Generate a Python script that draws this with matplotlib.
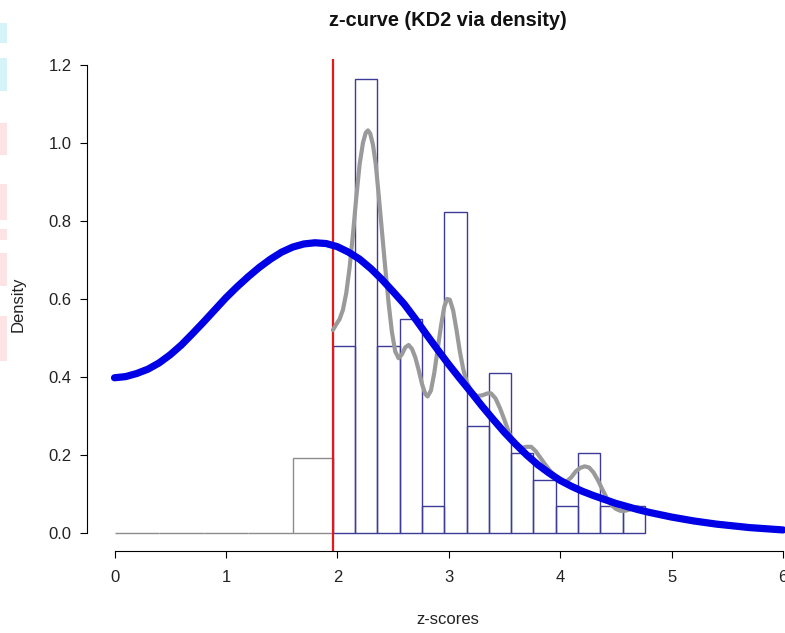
import numpy as np
import matplotlib
matplotlib.use('Agg')
import matplotlib.pyplot as plt
from matplotlib.patches import Rectangle

plt.rcParams['font.family'] = ['Liberation Sans', 'DejaVu Sans']

# critical value for significance
crit_z = 1.96

# histogram of non-significant z-scores (only the last bin is non-empty)
nonsig_edges = [0.0, 0.4, 0.8, 1.2, 1.6, 1.96]
nonsig_density = [0.0, 0.0, 0.0, 0.0, 0.193]

# histogram of significant z-scores, bin width 0.2
sig_edges = [1.96, 2.16, 2.36, 2.56, 2.76, 2.96, 3.16, 3.36, 3.56, 3.76,
             3.96, 4.16, 4.36, 4.56, 4.76]
sig_density = [0.480, 1.165, 0.480, 0.549, 0.069, 0.823, 0.274, 0.411,
               0.206, 0.137, 0.069, 0.206, 0.069, 0.069]

# fitted z-curve (blue), read every 0.1
z_model = [0.0, 0.1, 0.2, 0.3, 0.4, 0.5, 0.6, 0.7, 0.8, 0.9, 1.0, 1.1, 1.2,
           1.3, 1.4, 1.5, 1.6, 1.7, 1.8, 1.9, 2.0, 2.1, 2.2, 2.3, 2.4, 2.5,
           2.6, 2.7, 2.8, 2.9, 3.0, 3.1, 3.2, 3.3, 3.4, 3.5, 3.6, 3.7, 3.8,
           3.9, 4.0, 4.1, 4.2, 4.3, 4.4, 4.5, 4.6, 4.7, 4.8, 4.9, 5.0, 5.1,
           5.2, 5.3, 5.4, 5.5, 5.6, 5.7, 5.8, 5.9, 6.0]
d_model = [0.398, 0.401, 0.409, 0.420, 0.436, 0.457, 0.482, 0.511, 0.541,
           0.572, 0.603, 0.631, 0.657, 0.681, 0.702, 0.720, 0.733, 0.741,
           0.744, 0.742, 0.734, 0.720, 0.702, 0.678, 0.650, 0.619, 0.587,
           0.549, 0.509, 0.470, 0.432, 0.396, 0.361, 0.325, 0.291, 0.258,
           0.228, 0.200, 0.175, 0.154, 0.135, 0.120, 0.107, 0.096, 0.086,
           0.076, 0.068, 0.060, 0.053, 0.047, 0.041, 0.036, 0.031, 0.027,
           0.023, 0.020, 0.017, 0.014, 0.012, 0.010, 0.008]

# kernel density of significant z-scores (gray)
z_kd = [1.96, 1.99, 2.02, 2.05, 2.08, 2.11, 2.14, 2.17, 2.20, 2.23, 2.255,
        2.275, 2.295, 2.32, 2.345, 2.37, 2.40, 2.43, 2.46, 2.49, 2.52, 2.55,
        2.58, 2.61, 2.64, 2.67, 2.70, 2.73, 2.76, 2.79, 2.81, 2.84, 2.87,
        2.90, 2.93, 2.96, 2.985, 3.01, 3.04, 3.07, 3.10, 3.13, 3.16, 3.20,
        3.25, 3.30, 3.35, 3.38, 3.42, 3.46, 3.50, 3.54, 3.58, 3.62, 3.66,
        3.70, 3.74, 3.78, 3.82, 3.86, 3.90, 3.94, 3.98, 4.02, 4.06, 4.10,
        4.14, 4.18, 4.22, 4.26, 4.30, 4.34, 4.38, 4.42, 4.46, 4.50, 4.54,
        4.58, 4.62, 4.66, 4.70]
d_kd = [0.520, 0.535, 0.548, 0.572, 0.615, 0.680, 0.765, 0.860, 0.945,
        1.000, 1.026, 1.032, 1.024, 0.995, 0.945, 0.870, 0.775, 0.680,
        0.590, 0.515, 0.465, 0.448, 0.458, 0.476, 0.482, 0.472, 0.450,
        0.418, 0.382, 0.356, 0.350, 0.365, 0.410, 0.470, 0.530, 0.580,
        0.600, 0.598, 0.570, 0.520, 0.465, 0.420, 0.388, 0.364, 0.351,
        0.353, 0.358, 0.358, 0.345, 0.320, 0.290, 0.258, 0.233, 0.221,
        0.219, 0.221, 0.221, 0.210, 0.194, 0.178, 0.163, 0.150, 0.139,
        0.132, 0.133, 0.143, 0.158, 0.167, 0.171, 0.168, 0.155, 0.135,
        0.111, 0.089, 0.072, 0.062, 0.057, 0.057, 0.060, 0.064, 0.067]

x_ticks = [0, 1, 2, 3, 4, 5, 6]
y_ticks = [0.0, 0.2, 0.4, 0.6, 0.8, 1.0, 1.2]

fig = plt.figure(figsize=(7.85, 6.33), dpi=100)

# leftover screen bits at the left edge of the screenshot
for y0, y1, col in [(23, 43, '#d6f3fa'), (58, 91, '#d6f3fa'),
                    (123, 155, '#fde3e3'), (184, 220, '#fde3e3'),
                    (229, 240, '#fde3e3'), (253, 286, '#fde3e3'),
                    (316, 361, '#fde3e3')]:
    fig.patches.append(Rectangle((0, 1 - y1 / 633), 7 / 785, (y1 - y0) / 633,
                                 transform=fig.transFigure, color=col,
                                 lw=0, zorder=0))

ax = fig.add_axes([87 / 785, 82 / 633, 722.7 / 785, 492 / 633])
ax.set_xlim(-0.247, 6.24)
ax.set_ylim(-0.046, 1.215)

ax.bar(nonsig_edges[:-1], nonsig_density, width=np.diff(nonsig_edges),
       align='edge', fill=False, edgecolor='#8c8c8c', linewidth=1.0, zorder=1)
ax.bar(sig_edges[:-1], sig_density, width=np.diff(sig_edges),
       align='edge', fill=False, edgecolor='#3c3c96', linewidth=1.0, zorder=2)

ax.axvline(crit_z, color='#e81818', linewidth=1.6, zorder=3)
ax.plot(z_kd, d_kd, color='#9a9a9a', linewidth=3.0,
        solid_capstyle='round', solid_joinstyle='round', zorder=4)
ax.plot(z_model, d_model, color='#0000e6', linewidth=5.2,
        solid_capstyle='round', solid_joinstyle='round', zorder=5)

for side in ['top', 'right']:
    ax.spines[side].set_visible(False)
ax.spines['left'].set_bounds(0, 1.2)
ax.spines['bottom'].set_bounds(0, 6)
ax.spines['left'].set_linewidth(0.8)
ax.spines['bottom'].set_linewidth(0.8)

ax.set_xticks(x_ticks)
ax.set_xticklabels([str(t) for t in x_ticks])
ax.set_yticks(y_ticks)
ax.set_yticklabels(['%.1f' % t for t in y_ticks])
ax.tick_params(axis='both', direction='out', length=5, width=0.8,
               labelsize=12, colors='#000000', labelcolor='#222222')
ax.tick_params(axis='x', pad=9)
ax.tick_params(axis='y', pad=6)

fig.text(448 / 785, 1 - 20 / 633, 'z-curve (KD2 via density)', ha='center',
         va='center', fontsize=14.4, fontweight='bold', color='#111111')
fig.text(448 / 785, 1 - 620 / 633, 'z-scores', ha='center', va='center',
         fontsize=12, color='#222222')
fig.text(18 / 785, 1 - 304 / 633, 'Density', ha='center', va='center',
         rotation=90, fontsize=12, color='#222222')

fig.savefig('out.png', dpi=100)
